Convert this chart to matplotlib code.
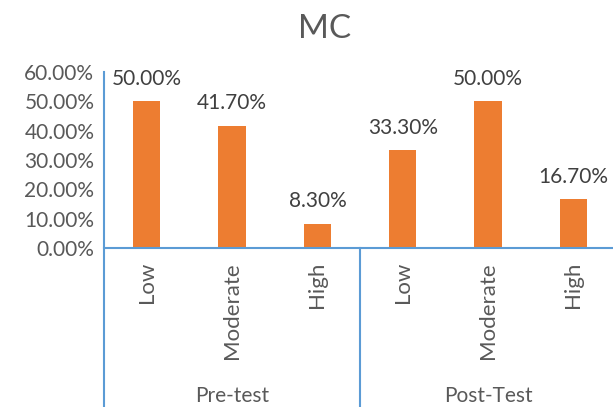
import matplotlib.pyplot as plt
import matplotlib.transforms as mtransforms
from matplotlib.ticker import PercentFormatter

# --- data ---
groups = ['Pre-test', 'Post-Test']
levels = ['Low', 'Moderate', 'High']
pre_values = [50.0, 41.7, 8.3]
post_values = [33.3, 50.0, 16.7]

values = pre_values + post_values
labels = levels + levels

plt.rcParams['font.family'] = ['Lato', 'DejaVu Sans']
text_color = '#595959'
axis_color = '#5B9BD5'
bar_color = '#ED7D31'

fig = plt.figure(figsize=(6.13, 4.07), dpi=100)
ax = fig.add_axes([0.1697, 0.3907, 0.8353, 0.4323])

x = list(range(len(values)))
ax.bar(x, values, width=0.32, color=bar_color, zorder=2)

for xi, v in zip(x, values):
    ax.annotate(f'{v:.2f}%', (xi, v), xytext=(0, 9), textcoords='offset points',
                ha='center', va='bottom', fontsize=15, color='#404040')

ax.set_xlim(-0.5, len(values) - 0.5)
ax.set_ylim(0, 60)
ax.set_yticks(range(0, 61, 10))
ax.yaxis.set_major_formatter(PercentFormatter(decimals=2))
ax.tick_params(axis='y', length=0, pad=7, labelsize=15, labelcolor=text_color)
ax.set_xticks([])

for side in ['top', 'right', 'left']:
    ax.spines[side].set_visible(False)
ax.spines['bottom'].set_color(axis_color)
ax.spines['bottom'].set_linewidth(1.5)

trans = mtransforms.blended_transform_factory(ax.transData, ax.transAxes)

# group separators (left axis line runs down through the category area)
for sep in [-0.5, 2.5]:
    top = 1.0 if sep == -0.5 else 0.0
    ax.plot([sep, sep], [top, -0.95], transform=trans, color=axis_color,
            lw=1.5, clip_on=False, zorder=3)

# category labels
for xi, lab in zip(x, labels):
    ax.text(xi, -0.08, lab, transform=trans, rotation=90, ha='center', va='top',
            fontsize=16, color=text_color)

# group labels
for gi, g in enumerate(groups):
    ax.text(gi * 3 + 1, -0.84, g, transform=trans, ha='center', va='center',
            fontsize=15, color=text_color)

fig.text(0.53, 0.928, 'MC', ha='center', va='center', fontsize=24, color=text_color)

fig.savefig('out.png', dpi=100, facecolor='white')
